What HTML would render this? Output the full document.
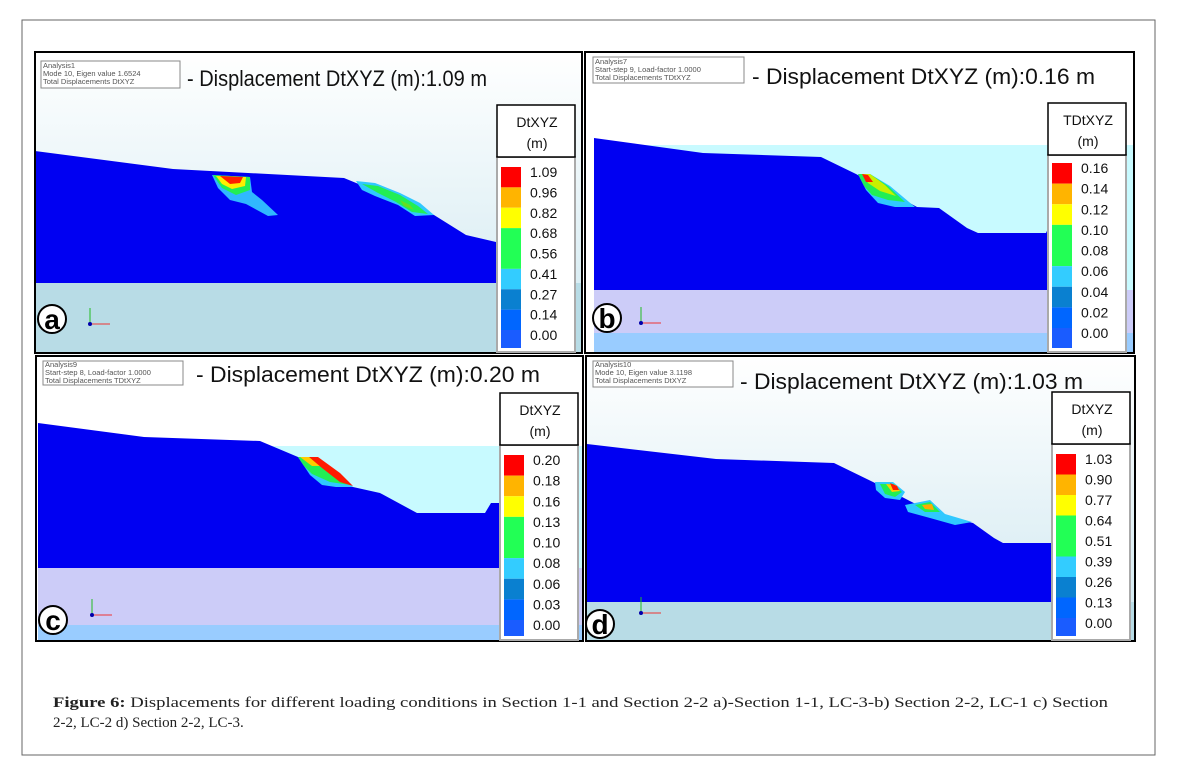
<!DOCTYPE html>
<html><head><meta charset="utf-8">
<style>
html,body{margin:0;padding:0;background:#fff;}
svg{display:block;}
text{font-family:"Liberation Sans",sans-serif;}
.cap{font-family:"Liberation Serif",serif;font-size:15px;fill:#222;}
.lbl{font-size:7.5px;fill:#555;}
.ttl{font-size:22px;fill:#111;}
.lv{font-size:14px;fill:#111;}
.lh{font-size:14px;fill:#111;}
</style></head>
<body>
<svg id="fig" width="1177" height="773" viewBox="0 0 1177 773">
<defs>
<linearGradient id="sky" x1="0" y1="0" x2="0" y2="1"><stop offset="0" stop-color="#ffffff"/><stop offset="1" stop-color="#cfe8f0"/></linearGradient>
</defs>
<rect x="22" y="20" width="1133" height="735" fill="none" stroke="#666" stroke-width="1"/>

<!-- Panel a -->
<g>
<rect x="35" y="52" width="547" height="301" fill="url(#sky)"/>
<rect x="35" y="283" width="547" height="70" fill="#b8dce6"/>
<path d="M35,151 L173,169 L344,178 L434,215 L466,235 L496,242 L500,242 L500,283 L35,283Z" fill="#0000f2"/>
<g>
<path d="M212,175 L250,177 L252,192 L262,200 L278,215 L268,216 L246,204 L230,200 L218,188Z" fill="#30b8ff"/>
<path d="M213,175 L250,177 L250,190 L236,195 L222,188Z" fill="#22ee55"/>
<path d="M216,176 L246,177 L245,186 L232,189 L222,184Z" fill="#ffee00"/>
<path d="M220,176 L243,177 L240,183 L230,184Z" fill="#ff2000"/>
</g>
<g>
<path d="M356,181 L375,183 L400,193 L420,203 L434,215 L415,216 L398,205 L375,196 L362,190Z" fill="#30c8ff"/>
<path d="M362,184 L378,186 L400,195 L418,206 L428,214 L412,212 L396,202 L378,193Z" fill="#22ee55"/>
<path d="M400,200 L410,205 L414,210 L404,206Z" fill="#66dd22"/>
</g>
<rect x="41" y="61" width="139" height="27" fill="#fff" stroke="#888" stroke-width="1"/>
<text class="lbl" x="43" y="68">Analysis1</text>
<text class="lbl" x="43" y="76">Mode 10, Eigen value 1.6524</text>
<text class="lbl" x="43" y="84">Total Displacements DtXYZ</text>
<text class="ttl" x="187" y="86" textLength="300" lengthAdjust="spacingAndGlyphs">- Displacement DtXYZ (m):1.09 m</text>
<circle cx="52" cy="319" r="14" fill="#fff" stroke="#000" stroke-width="2"/>
<text x="52" y="329" text-anchor="middle" font-size="28" font-weight="bold">a</text>
<g><line x1="90" y1="324" x2="90" y2="308" stroke="#2b2"/><line x1="90" y1="324" x2="110" y2="324" stroke="#e33"/><circle cx="90" cy="324" r="2" fill="#00a"/></g>
<rect x="35" y="52" width="547" height="301" fill="none" stroke="#000" stroke-width="2"/>
</g>

<!-- Panel b -->
<g>
<rect x="585" y="52" width="549" height="301" fill="#fff"/>
<rect x="594" y="145" width="540" height="145" fill="#c8faff"/>
<rect x="594" y="290" width="540" height="43" fill="#ccccf8"/>
<rect x="594" y="333" width="540" height="20" fill="#99ccff"/>
<path d="M594,138 L703,153 L821,157 L856,174 L917,207 L939,208 L967,228 L978,233 L1046,233 L1050,224 L1050,290 L594,290Z" fill="#0000f2"/>
<g>
<path d="M858,174 L870,174 L890,186 L915,207 L895,207 L878,203 L866,190Z" fill="#30c8ff"/>
<path d="M858,174 L870,174 L888,186 L905,202 L888,200 L872,195 L864,186Z" fill="#22ee55"/>
<path d="M862,174 L870,174 L885,185 L896,196 L880,191 L868,183Z" fill="#c8f000"/>
<path d="M862,174 L868,175 L873,182 L866,182Z" fill="#ff1a00"/>
</g>
<rect x="593" y="57" width="151" height="26" fill="#fff" stroke="#888" stroke-width="1"/>
<text class="lbl" x="595" y="64">Analysis7</text>
<text class="lbl" x="595" y="72">Start-step 9, Load-factor 1.0000</text>
<text class="lbl" x="595" y="80">Total Displacements TDtXYZ</text>
<text class="ttl" x="752" y="84" textLength="343" lengthAdjust="spacingAndGlyphs">- Displacement DtXYZ (m):0.16 m</text>
<circle cx="607" cy="318" r="14" fill="#fff" stroke="#000" stroke-width="2"/>
<text x="607" y="328" text-anchor="middle" font-size="28" font-weight="bold">b</text>
<g><line x1="641" y1="323" x2="641" y2="307" stroke="#2b2"/><line x1="641" y1="323" x2="661" y2="323" stroke="#e33"/><circle cx="641" cy="323" r="2" fill="#00a"/></g>
<rect x="585" y="52" width="549" height="301" fill="none" stroke="#000" stroke-width="2"/>
</g>

<!-- Panel c -->
<g>
<rect x="36" y="356" width="547" height="285" fill="#fff"/>
<rect x="38" y="446" width="545" height="122" fill="#c8faff"/>
<rect x="38" y="568" width="545" height="57" fill="#ccccf8"/>
<rect x="38" y="625" width="545" height="16" fill="#99ccff"/>
<path d="M38,423 L144,437 L260,441 L298,457 L353,487 L380,493 L417,513 L485,513 L491,503 L500,503 L500,568 L38,568Z" fill="#0000f2"/>
<g>
<path d="M298,457 L316,457 L335,470 L353,487 L336,487 L322,485 L310,475Z" fill="#30c8ff"/>
<path d="M298,457 L316,457 L340,475 L350,485 L330,482 L312,474 L304,466Z" fill="#22ee55"/>
<path d="M300,457 L312,457 L322,466 L312,466Z" fill="#ffcc00"/>
<path d="M309,457 L318,457 L340,473 L353,486 L340,482 L322,468Z" fill="#ff1a00"/>
</g>
<rect x="43" y="361" width="140" height="24" fill="#fff" stroke="#888" stroke-width="1"/>
<text class="lbl" x="45" y="367">Analysis9</text>
<text class="lbl" x="45" y="375">Start-step 8, Load-factor 1.0000</text>
<text class="lbl" x="45" y="383">Total Displacements TDtXYZ</text>
<text class="ttl" x="196" y="382" textLength="344" lengthAdjust="spacingAndGlyphs">- Displacement DtXYZ (m):0.20 m</text>
<circle cx="53" cy="620" r="14" fill="#fff" stroke="#000" stroke-width="2"/>
<text x="53" y="630" text-anchor="middle" font-size="28" font-weight="bold">c</text>
<g><line x1="92" y1="615" x2="92" y2="599" stroke="#2b2"/><line x1="92" y1="615" x2="112" y2="615" stroke="#e33"/><circle cx="92" cy="615" r="2" fill="#00a"/></g>
<rect x="36" y="356" width="547" height="285" fill="none" stroke="#000" stroke-width="2"/>
</g>

<!-- Panel d -->
<g>
<rect x="586" y="356" width="549" height="285" fill="url(#sky)"/>
<rect x="587" y="602" width="548" height="39" fill="#b8dce6"/>
<path d="M587,444 L716,459 L834,463 L873,482 L937,515 L973,523 L994,538 L1003,543 L1051,543 L1051,602 L587,602Z" fill="#0000f2"/>
<g>
<path d="M875,482 L893,482 L905,492 L900,500 L885,498 L876,490Z" fill="#30c8ff"/>
<path d="M880,484 L894,484 L902,492 L895,497 L885,494Z" fill="#22ee55"/>
<path d="M886,484 L896,485 L900,491 L892,492Z" fill="#ffcc00"/>
<path d="M890,483 L897,486 L899,490 L893,490Z" fill="#ff1a00"/>
</g>
<g>
<path d="M905,505 L930,500 L945,514 L972,522 L955,525 L930,518 L908,512Z" fill="#30c8ff"/>
<path d="M915,505 L930,502 L940,512 L925,512Z" fill="#22ee55"/>
<path d="M922,505 L932,504 L934,510 L925,509Z" fill="#ffaa00"/>
</g>
<rect x="593" y="361" width="140" height="26" fill="#fff" stroke="#888" stroke-width="1"/>
<text class="lbl" x="595" y="367">Analysis10</text>
<text class="lbl" x="595" y="375">Mode 10, Eigen value 3.1198</text>
<text class="lbl" x="595" y="383">Total Displacements DtXYZ</text>
<text class="ttl" x="740" y="389" textLength="343" lengthAdjust="spacingAndGlyphs">- Displacement DtXYZ (m):1.03 m</text>
<circle cx="600" cy="624" r="14" fill="#fff" stroke="#000" stroke-width="2"/>
<text x="600" y="634" text-anchor="middle" font-size="28" font-weight="bold">d</text>
<g><line x1="641" y1="613" x2="641" y2="597" stroke="#2b2"/><line x1="641" y1="613" x2="661" y2="613" stroke="#e33"/><circle cx="641" cy="613" r="2" fill="#00a"/></g>
<rect x="586" y="356" width="549" height="285" fill="none" stroke="#000" stroke-width="2"/>
</g>

<g id="legends"></g>

<text class="cap" x="53" y="707" textLength="1055" lengthAdjust="spacingAndGlyphs"><tspan font-weight="bold">Figure 6:</tspan> Displacements for different loading conditions in Section 1-1 and Section 2-2 a)-Section 1-1, LC-3-b) Section 2-2, LC-1 c) Section</text>
<text class="cap" x="53" y="727">2-2, LC-2 d) Section 2-2, LC-3.</text>
</svg>
<script>
const legendAValues = ["1.09","0.96","0.82","0.68","0.56","0.41","0.27","0.14","0.00"];
const legendBValues = ["0.16","0.14","0.12","0.10","0.08","0.06","0.04","0.02","0.00"];
const legendCValues = ["0.20","0.18","0.16","0.13","0.10","0.08","0.06","0.03","0.00"];
const legendDValues = ["1.03","0.90","0.77","0.64","0.51","0.39","0.26","0.13","0.00"];
const legendColors = ["#ff0000","#ffb400","#ffff00","#22ff55","#22ff55","#33ccff","#0a80d0","#0066ff","#1a5cff"];
const NS = "http://www.w3.org/2000/svg";
const host = document.getElementById('legends');
function mk(tag, attrs, parent){const e=document.createElementNS(NS,tag);for(const k in attrs)e.setAttribute(k,attrs[k]);parent.appendChild(e);return e;}
function drawLegend(name, x, hy, header, values, y0, y1, bottom){
  const g = mk('g',{},host);
  
  
  mk('rect',{x:x,y:hy+52,width:78,height:bottom-hy-52,fill:'#fff',stroke:'#aaa','stroke-width':2},g);
  mk('rect',{x:x,y:hy,width:78,height:52,fill:'#fff',stroke:'#000','stroke-width':1.5},g);
  const h1 = mk('text',{x:x+40,y:hy+22,'text-anchor':'middle',class:'lh'},g); h1.textContent=header;
  const h2 = mk('text',{x:x+40,y:hy+43,'text-anchor':'middle',class:'lh'},g); h2.textContent='(m)';
  const step = (y1-y0)/(values.length-1);
  values.forEach((v,i)=>{
    const yc = y0 + i*step;
    const top = yc - 5;
    const hgt = (i===values.length-1) ? (bottom-4-top) : step;
    const sw = mk('rect',{x:x+4,y:top,width:20,height:hgt,fill:legendColors[i]},g);
    
    
    const t = mk('text',{x:x+33,y:yc+5,class:'lv'},g);
    t.textContent = v;
    
    
  });
}
drawLegend('legend-a', 497, 105, 'DtXYZ', legendAValues, 172, 335, 352);
drawLegend('legend-b', 1048, 103, 'TDtXYZ', legendBValues, 168, 333, 352);
drawLegend('legend-c', 500, 393, 'DtXYZ', legendCValues, 460, 625, 640);
drawLegend('legend-d', 1052, 392, 'DtXYZ', legendDValues, 459, 623, 640);
</script>
</body></html>
